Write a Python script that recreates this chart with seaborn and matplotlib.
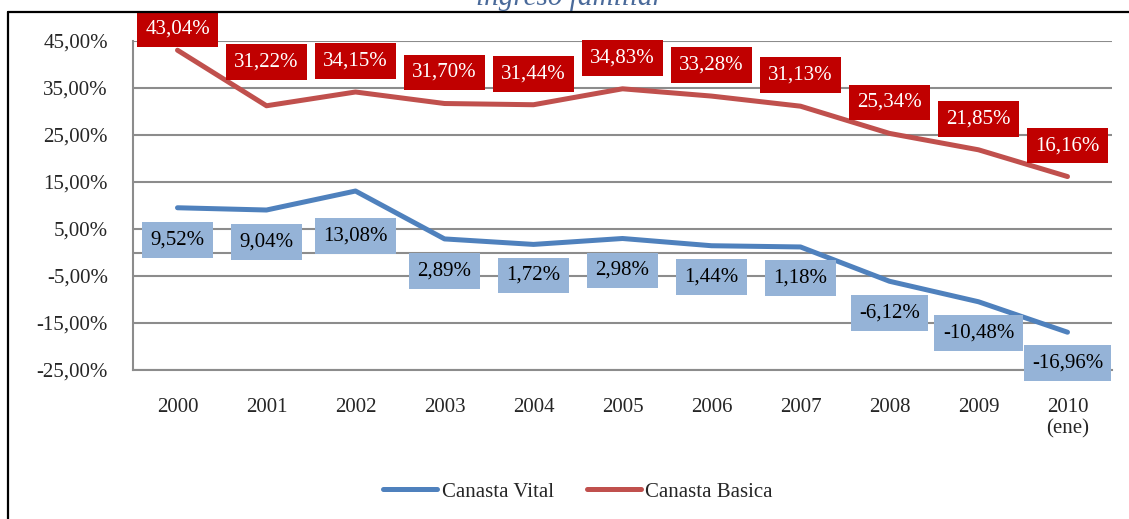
import matplotlib
matplotlib.use("Agg")
import matplotlib.pyplot as plt
import seaborn as sns
import pandas as pd
from matplotlib.lines import Line2D

years = ["2000", "2001", "2002", "2003", "2004", "2005", "2006", "2007", "2008", "2009", "2010\n(ene)"]
canasta_vital = [9.52, 9.04, 13.08, 2.89, 1.72, 2.98, 1.44, 1.18, -6.12, -10.48, -16.96]
canasta_basica = [43.04, 31.22, 34.15, 31.70, 31.44, 34.83, 33.28, 31.13, 25.34, 21.85, 16.16]
series_names = ["Canasta Vital", "Canasta Basica"]
yticks = [-25, -15, -5, 5, 15, 25, 35, 45]

# label offsets (pixels) from the points
vital_offsets = [-32, -32, -45, -32, -31, -32, -31, -31, -32, -31, -31]
basica_offsets = [21, 44, 31, 31, 31, 31, 31, 31, 31, 31, 31]

sns.set_style("white")
plt.rcParams['font.family'] = ['Liberation Serif', 'DejaVu Serif']
FS = 15

df = pd.DataFrame({
    "x": list(range(len(years))) * 2,
    "value": canasta_vital + canasta_basica,
    "serie": [series_names[0]] * len(years) + [series_names[1]] * len(years),
})

blue_line = "#4F81BD"
red_line = "#C0504D"
blue_box = "#95B3D7"
red_box = "#C00000"
grid_c = "#8C8C8C"

fig = plt.figure(figsize=(11.29, 5.19), dpi=100)
ax = fig.add_axes([133 / 1129, 1 - 370 / 519, (1112 - 133) / 1129, (370 - 41) / 519])

sns.lineplot(data=df, x="x", y="value", hue="serie", palette=[blue_line, red_line],
             linewidth=3.6, ax=ax, legend=False, solid_capstyle="round", zorder=3)

ax.set_xlim(-0.5, len(years) - 0.5)
ax.set_ylim(-25, 45)
ax.set_yticks(yticks)
ax.set_yticklabels([f"{v:.2f}".replace('.', ',') + "%" for v in yticks], fontsize=FS)
ax.set_xticks(range(len(years)))
ax.set_xticklabels(years, fontsize=FS, linespacing=1.15)
ax.tick_params(axis='y', length=0, pad=18)
ax.tick_params(axis='x', length=0, pad=20)
ax.set_xlabel("")
ax.set_ylabel("")
ax.yaxis.grid(True, color=grid_c, linewidth=1.5)
ax.set_axisbelow(True)
ax.axhline(0, color=grid_c, linewidth=1.5, zorder=1)
for s in ["top", "right"]:
    ax.spines[s].set_visible(False)
for s in ["left", "bottom"]:
    ax.spines[s].set_color(grid_c)
    ax.spines[s].set_linewidth(1.5)


def fmt(v):
    return f"{v:.2f}".replace('.', ',') + "%"


for i, (v, off) in enumerate(zip(canasta_vital, vital_offsets)):
    ax.annotate(fmt(v), xy=(i, v), xytext=(0, off), textcoords="offset pixels",
                ha="center", va="center", fontsize=FS, color="black",
                bbox=dict(boxstyle="square,pad=0.4", fc=blue_box, ec="none"),
                zorder=5, annotation_clip=False)
for i, (v, off) in enumerate(zip(canasta_basica, basica_offsets)):
    ax.annotate(fmt(v), xy=(i, v), xytext=(0, off), textcoords="offset pixels",
                ha="center", va="center", fontsize=FS, color="white",
                bbox=dict(boxstyle="square,pad=0.4", fc=red_box, ec="none"),
                zorder=5, annotation_clip=False)

handles = [Line2D([0], [0], color=blue_line, lw=3.6),
           Line2D([0], [0], color=red_line, lw=3.6)]
fig.legend(handles, series_names, loc="center", bbox_to_anchor=(578 / 1129, 1 - 492 / 519),
           ncol=2, frameon=False, fontsize=FS, handlelength=2.6, handletextpad=0.2,
           columnspacing=1.6)

# Title (cut off at top of the image, as in the source)
fig.text(570 / 1129, 1 - 5 / 519, "ingreso familiar", ha="center", va="baseline",
         fontsize=21, style="italic", color="#4A6A9A")

# Frame border lines
fig.add_artist(Line2D([8 / 1129, 1], [1 - 12 / 519, 1 - 12 / 519], color="black", lw=1.6,
                      transform=fig.transFigure))
fig.add_artist(Line2D([8 / 1129, 8 / 1129], [0, 1 - 12 / 519], color="black", lw=1.6,
                      transform=fig.transFigure))

fig.savefig("out.png", dpi=100)
